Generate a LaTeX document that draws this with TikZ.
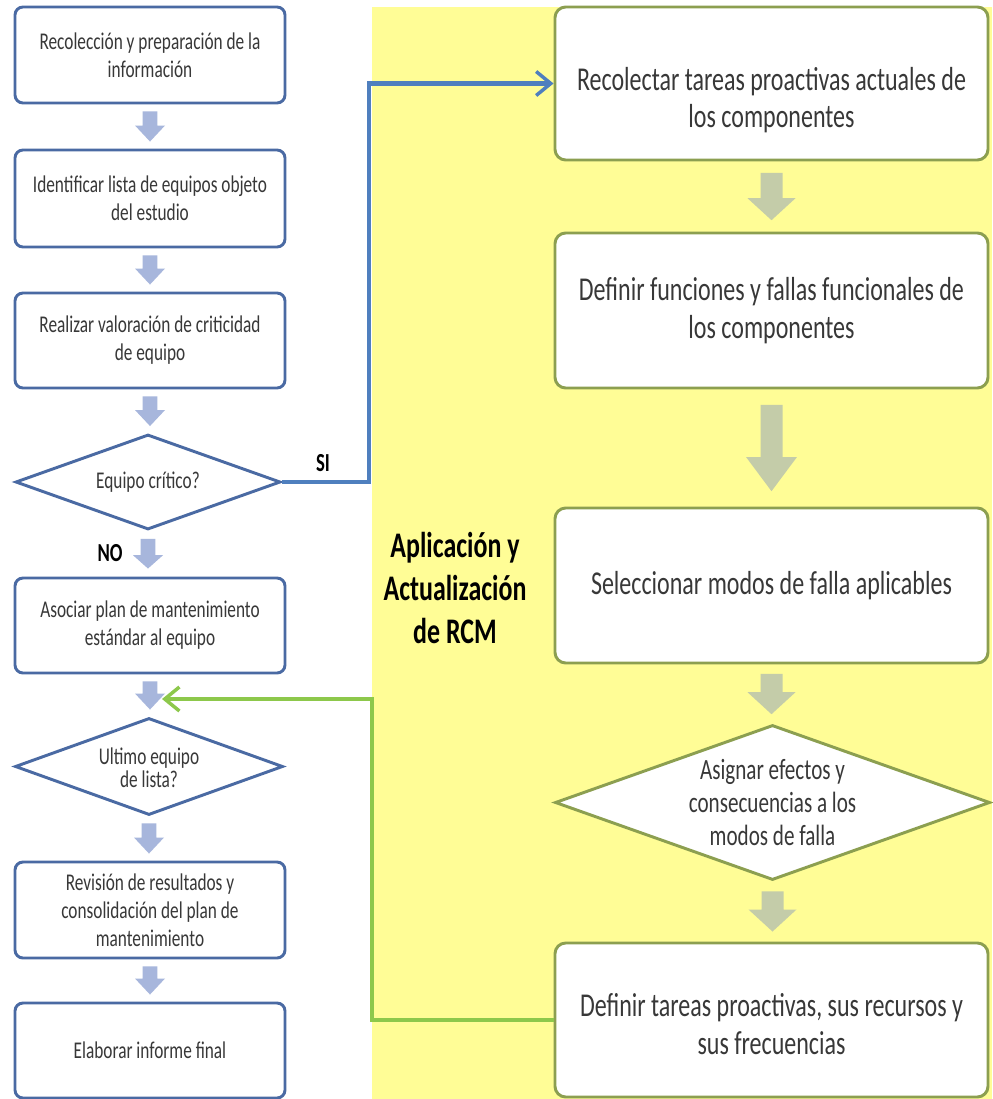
\documentclass[tikz,border=0pt]{standalone}
\usepackage{fontspec}
\setmainfont{Carlito}[FakeStretch=0.72]
\usetikzlibrary{shapes.geometric,arrows.meta,calc}
\definecolor{ylw}{HTML}{FFFD96}
\definecolor{lborder}{HTML}{4A6AA3}
\definecolor{rborder}{HTML}{8C9F50}
\definecolor{larrow}{HTML}{A7B6DC}
\definecolor{rarrow}{HTML}{C4CCA9}
\definecolor{bconn}{HTML}{4F7FBE}
\definecolor{gconn}{HTML}{8DC84B}
\definecolor{txt}{HTML}{383838}
\newcommand{\blockarr}[7]{%
  \fill[#7] let \p1=(#1.south), \p2=(#2.north) in
    (\x1-#3,\y1-#6) -- (\x1+#3,\y1-#6) -- (\x1+#3,\y2+#6+#5) -- (\x1+#4,\y2+#6+#5)
    -- (\x1,\y2+#6) -- (\x1-#4,\y2+#6+#5) -- (\x1-#3,\y2+#6+#5) -- cycle;}
\begin{document}
\begin{tikzpicture}[x=0.75pt,y=-0.75pt,
  lbox/.style={draw=lborder, line width=2.2pt, rounded corners=6pt, fill=white,
    minimum width=202.5pt, inner sep=0pt, align=center, text=txt,
    font=\fontsize{18}{21}\selectfont},
  ldia/.style={draw=lborder, line width=2.2pt, diamond, fill=white, inner sep=0pt},
  rdia/.style={draw=rborder, line width=2.2pt, diamond, fill=white, inner sep=0pt},
  ltxt/.style={inner sep=0pt, align=center, text=txt, font=\fontsize{18}{21}\selectfont},
  rbox/.style={draw=rborder, line width=2.2pt, rounded corners=8pt, fill=white,
    minimum width=324.75pt, inner sep=0pt, align=center, text=txt,
    font=\fontsize{25}{28}\selectfont},
  rtxt/.style={inner sep=0pt, align=center, text=txt, font=\fontsize{25}{28}\selectfont},
  conn/.style={line width=3.6pt, line join=miter, -{Straight Barb[length=11pt,width=18pt,line width=2.6pt]}},
  lab/.style={inner sep=0pt, font=\bfseries\fontsize{19.5}{22}\selectfont, text=black}
]
\useasboundingbox (0,0) rectangle (992,1099);
\fill[white] (0,0) rectangle (992,1099);
\fill[ylw] (372,7) rectangle (992,1099);

% left column
\node[lbox, minimum height=72pt] (b1) at (150,55) {Recolección y preparación de la\\información};
\node[lbox, minimum height=72.75pt] (b2) at (150,198.5) {Identificar lista de equipos objeto\\del estudio};
\node[lbox, minimum height=71.25pt] (b3) at (150,340.5) {Realizar valoración de criticidad\\de equipo};
\node[ldia, minimum width=198.75pt, minimum height=71.25pt] (d1) at (148,482) {};
\node[ltxt] (d1t) at (d1) {Equipo crítico?};
\node[lbox, minimum height=71.25pt] (b4) at (150,625.5) {Asociar plan de mantenimiento\\estándar al equipo};
\node[ldia, minimum width=201pt, minimum height=72.75pt] (d2) at (149,766.5) {};
\node[ltxt, font=\fontsize{18}{17.5}\selectfont] (d2t) at (149,768) {Ultimo equipo\\de lista?};
\node[lbox, minimum height=72pt] (b5) at (150,910) {Revisión de resultados y\\consolidación del plan de\\mantenimiento};
\node[lbox, minimum height=71.25pt] (b6) at (150,1050.5) {Elaborar informe final};

\blockarr{b1}{b2}{5.6pt}{11.25pt}{12pt}{5.25pt}{larrow}
\blockarr{b2}{b3}{5.6pt}{11.25pt}{12pt}{5.25pt}{larrow}
\blockarr{b3}{d1}{5.6pt}{11.25pt}{12pt}{5.25pt}{larrow}
\blockarr{d1}{b4}{5.6pt}{11.25pt}{10pt}{6pt}{larrow}
\blockarr{b4}{d2}{5.6pt}{11.25pt}{12pt}{5.25pt}{larrow}
\blockarr{d2}{b5}{5.6pt}{11.25pt}{12pt}{5.25pt}{larrow}
\blockarr{b5}{b6}{5.6pt}{11.25pt}{12pt}{5.25pt}{larrow}

% right column
\node[rbox, minimum height=114.75pt] (r1) at (771.5,83.5) {};
\node[rtxt] (r1t) at (771.5,100) {Recolectar tareas proactivas actuales de\\los componentes};
\node[rbox, minimum height=116.25pt] (r2) at (771.5,310.5) {Definir funciones y fallas funcionales de\\los componentes};
\node[rbox, minimum height=116.25pt] (r3) at (771.5,585.5) {Seleccionar modos de falla aplicables};
\node[rdia, minimum width=326.25pt, minimum height=116.25pt] (rd) at (772.5,802.5) {};
\node[inner sep=0pt, align=center, text=txt, font=\fontsize{22}{24.75}\selectfont] (rdt) at (rd) {Asignar efectos y\\consecuencias a los\\modos de falla};
\node[rbox, minimum height=115.5pt] (r5) at (771.5,1020) {};
\node[rtxt] (r5t) at (771.5,1024) {Definir tareas proactivas, sus recursos y\\sus frecuencias};

\blockarr{r1}{r2}{8.25pt}{18pt}{16.5pt}{8.5pt}{rarrow}
\blockarr{r2}{r3}{8.25pt}{19pt}{25.5pt}{11.5pt}{rarrow}
\blockarr{r3}{rd}{8.25pt}{18pt}{16.5pt}{7pt}{rarrow}
\blockarr{rd}{r5}{8.25pt}{18pt}{16.5pt}{7.5pt}{rarrow}

% title
\node[inner sep=0pt, align=center, text=black, font=\bfseries\fontsize{27}{32}\selectfont] (title) at (455,588) {Aplicación y\\Actualización\\de RCM};

% connectors
\coordinate (bx) at (369,0);
\coordinate (gx) at (372,0);
\coordinate (gtip) at (162,699);
\draw[conn, draw=bconn] (d1.east) -- (d1.east -| bx) |- (r1.west);
\draw[conn, draw=gconn] (r5.west) -- (r5.west -| gx) |- (gtip);
\node[lab] (si) at (323,463) {SI};
\node[lab] (no) at (110,553) {NO};
\end{tikzpicture}
\end{document}
